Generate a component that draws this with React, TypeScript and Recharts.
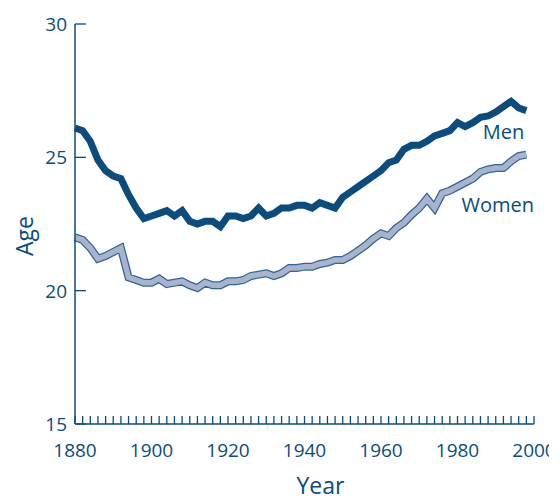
import { LineChart, Line, XAxis, YAxis } from "recharts";

const BLUE = "#0a4c7e";
const WOMEN_FILL = "#a8b3cf";
const WOMEN_EDGE = "#2f6594";
const FONT = "'Open Sans', sans-serif";

const years = [
  1880, 1882, 1884, 1886, 1888, 1890, 1892, 1894, 1896, 1898,
  1900, 1902, 1904, 1906, 1908, 1910, 1912, 1914, 1916, 1918,
  1920, 1922, 1924, 1926, 1928, 1930, 1932, 1934, 1936, 1938,
  1940, 1942, 1944, 1946, 1948, 1950, 1952, 1954, 1956, 1958,
  1960, 1962, 1964, 1966, 1968, 1970, 1972, 1974, 1976, 1978,
  1980, 1982, 1984, 1986, 1988, 1990, 1992, 1994, 1996, 1998,
];

const menAge = [
  26.1, 26.0, 25.6, 24.9, 24.5, 24.3, 24.2, 23.6, 23.1, 22.7,
  22.8, 22.9, 23.0, 22.8, 23.0, 22.6, 22.5, 22.6, 22.6, 22.4,
  22.8, 22.8, 22.7, 22.8, 23.1, 22.8, 22.9, 23.1, 23.1, 23.2,
  23.2, 23.1, 23.3, 23.2, 23.1, 23.5, 23.7, 23.9, 24.1, 24.3,
  24.5, 24.8, 24.9, 25.3, 25.45, 25.45, 25.6, 25.8, 25.9, 26.0,
  26.3, 26.15, 26.3, 26.5, 26.55, 26.7, 26.9, 27.1, 26.85, 26.75,
];

const womenAge = [
  22.0, 21.9, 21.6, 21.2, 21.3, 21.45, 21.6, 20.5, 20.4, 20.3,
  20.3, 20.45, 20.25, 20.3, 20.35, 20.2, 20.1, 20.3, 20.2, 20.2,
  20.35, 20.35, 20.4, 20.55, 20.6, 20.65, 20.55, 20.65, 20.85, 20.85,
  20.9, 20.9, 21.0, 21.05, 21.15, 21.15, 21.3, 21.5, 21.7, 21.95,
  22.15, 22.05, 22.35, 22.55, 22.85, 23.1, 23.45, 23.1, 23.65, 23.75,
  23.9, 24.05, 24.2, 24.45, 24.55, 24.6, 24.6, 24.85, 25.05, 25.1,
];

const xTicks = Array.from({ length: 61 }, (_, i) => 1880 + i * 2);
const yTicks = [15, 20, 25, 30];

const data = years.map((year, i) => ({ year, men: menAge[i], women: womenAge[i] }));

function YearTick({ x, y, payload }: any) {
  if (payload.value % 20 !== 0) return <g />;
  return (
    <text x={x} y={y} dy="0.71em" textAnchor="middle" fill={BLUE} fontSize={19} fontWeight={500} fontFamily={FONT}>
      {payload.value}
    </text>
  );
}

function AgeTick({ x, y, payload }: any) {
  return (
    <text x={x} y={y} dy="0.36em" textAnchor="end" fill={BLUE} fontSize={19} fontWeight={500} fontFamily={FONT}>
      {payload.value}
    </text>
  );
}

// series name written next to one chosen point of the line
function seriesLabel(name: string, at: number, dx: number, dy: number) {
  return (props: any) => {
    if (props.index !== at) return <g key={props.index} />;
    return (
      <text
        key={props.index}
        x={props.x + dx}
        y={props.y + dy}
        dy="0.36em"
        textAnchor="middle"
        fill={BLUE}
        fontSize={20}
        fontWeight={500}
        fontFamily={FONT}
      >
        {name}
      </text>
    );
  };
}

export default function App() {
  return (
    <div style={{ position: "absolute", left: 0, top: 0, width: 549, height: 499, overflow: "hidden", background: "#fff" }}>
      <LineChart width={560} height={499} data={data} margin={{ top: 24, right: 26, bottom: 0, left: 0 }}>
        <XAxis
          type="number"
          dataKey="year"
          domain={[1880, 2000]}
          ticks={xTicks}
          interval={0}
          height={75}
          tickSize={-8}
          tickMargin={28}
          tick={<YearTick />}
          stroke={BLUE}
          tickLine={{ stroke: BLUE, strokeWidth: 1.3 }}
          axisLine={{ stroke: BLUE, strokeWidth: 1.5 }}
          label={{ value: "Year", position: "insideBottom", offset: 5, dx: 16, fill: BLUE, fontSize: 23, fontWeight: 500, fontFamily: FONT }}
        />
        <YAxis
          type="number"
          domain={[15, 30]}
          ticks={yTicks}
          interval={0}
          width={75}
          tickSize={-11}
          tickMargin={19}
          tick={<AgeTick />}
          stroke={BLUE}
          tickLine={{ stroke: BLUE, strokeWidth: 1.3 }}
          axisLine={{ stroke: BLUE, strokeWidth: 1.5 }}
          label={{
            content: (p: any) => {
              const cx = p.viewBox.x + 25;
              const cy = p.viewBox.y + p.viewBox.height / 2 + 12;
              return (
                <text
                  x={cx}
                  y={cy}
                  transform={`rotate(-90 ${cx} ${cy})`}
                  textAnchor="middle"
                  dy="0.36em"
                  fill={BLUE}
                  fontSize={23}
                  fontWeight={500}
                  fontFamily={FONT}
                >
                  Age
                </text>
              );
            },
          }}
        />
        <Line
          dataKey="women"
          type="linear"
          stroke={WOMEN_EDGE}
          strokeWidth={8}
          dot={false}
          activeDot={false}
          isAnimationActive={false}
        />
        <Line
          dataKey="women"
          type="linear"
          stroke={WOMEN_FILL}
          strokeWidth={5.5}
          dot={false}
          activeDot={false}
          isAnimationActive={false}
          label={seriesLabel("Women", 55, 2, 37)}
        />
        <Line
          dataKey="men"
          type="linear"
          stroke={BLUE}
          strokeWidth={7}
          dot={false}
          activeDot={false}
          isAnimationActive={false}
          label={seriesLabel("Men", 56, 0, 25)}
        />
      </LineChart>
    </div>
  );
}
